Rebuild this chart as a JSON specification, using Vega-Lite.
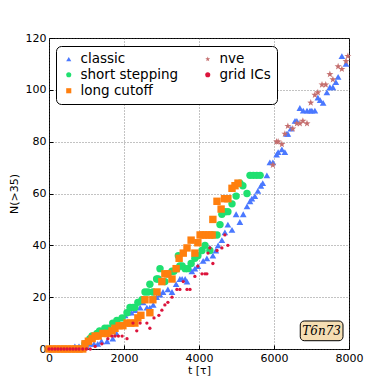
{
  "$schema": "https://vega.github.io/schema/vega-lite/v6.json",
  "width": 300,
  "height": 311,
  "autosize": {"type": "none"},
  "padding": {"left": 49, "top": 38, "right": 39, "bottom": 39},
  "background": "white",
  "config": {
    "font": "DejaVu Sans",
    "view": {"stroke": "black", "strokeWidth": 1},
    "axis": {
      "labelFont": "DejaVu Sans", "labelFontSize": 11, "labelColor": "black",
      "titleFont": "DejaVu Sans", "titleFontSize": 11, "titleFontWeight": "normal", "titleColor": "black",
      "grid": true, "gridColor": "#555", "gridDash": [1, 2], "gridWidth": 0.7,
      "domain": false, "tickColor": "black", "tickSize": -4, "labelPadding": 7,
      "labelFlush": false, "labelOverlap": false
    },
    "legend": {
      "labelFont": "DejaVu Sans", "labelFontSize": 13.5, "labelColor": "black"
    }
  },
  "datasets": {
    "pts": [
      {"s":"classic","t":0,"n":0},{"s":"classic","t":150,"n":0},{"s":"classic","t":300,"n":0},{"s":"classic","t":450,"n":0},{"s":"classic","t":600,"n":0},{"s":"classic","t":690,"n":1},{"s":"classic","t":800,"n":1},{"s":"classic","t":900,"n":1},{"s":"classic","t":1000,"n":1},{"s":"classic","t":1100,"n":2},{"s":"classic","t":1200,"n":2},{"s":"classic","t":1300,"n":2},{"s":"classic","t":1400,"n":3},{"s":"classic","t":1550,"n":3},{"s":"classic","t":1700,"n":4},{"s":"classic","t":1800,"n":6},{"s":"classic","t":1900,"n":9},{"s":"classic","t":2030,"n":13},{"s":"classic","t":2110,"n":14},{"s":"classic","t":2200,"n":14},{"s":"classic","t":2300,"n":15},{"s":"classic","t":2430,"n":16},{"s":"classic","t":2510,"n":18},{"s":"classic","t":2610,"n":16},{"s":"classic","t":2690,"n":16},{"s":"classic","t":2780,"n":17},{"s":"classic","t":2870,"n":20},{"s":"classic","t":2960,"n":21},{"s":"classic","t":3040,"n":22},{"s":"classic","t":3170,"n":23},{"s":"classic","t":3280,"n":22},{"s":"classic","t":3390,"n":25},{"s":"classic","t":3490,"n":27},{"s":"classic","t":3550,"n":27},{"s":"classic","t":3630,"n":27},{"s":"classic","t":3680,"n":26},{"s":"classic","t":3810,"n":30},{"s":"classic","t":3890,"n":31},{"s":"classic","t":3970,"n":32},{"s":"classic","t":4110,"n":34},{"s":"classic","t":4210,"n":35},{"s":"classic","t":4290,"n":39},{"s":"classic","t":4370,"n":36},{"s":"classic","t":4450,"n":38},{"s":"classic","t":4510,"n":40},{"s":"classic","t":4610,"n":42},{"s":"classic","t":4690,"n":45},{"s":"classic","t":4770,"n":48},{"s":"classic","t":4880,"n":46},{"s":"classic","t":4990,"n":52},{"s":"classic","t":5090,"n":49},{"s":"classic","t":5180,"n":52},{"s":"classic","t":5280,"n":55},{"s":"classic","t":5360,"n":57},{"s":"classic","t":5410,"n":58},{"s":"classic","t":5490,"n":59},{"s":"classic","t":5570,"n":61},{"s":"classic","t":5650,"n":63},{"s":"classic","t":5700,"n":64},{"s":"classic","t":5810,"n":67},{"s":"classic","t":5890,"n":72},{"s":"classic","t":5970,"n":72},{"s":"classic","t":6070,"n":75},{"s":"classic","t":6110,"n":76},{"s":"classic","t":6210,"n":77},{"s":"classic","t":6290,"n":76},{"s":"classic","t":6340,"n":83},{"s":"classic","t":6370,"n":83},{"s":"classic","t":6450,"n":85},{"s":"classic","t":6560,"n":88},{"s":"classic","t":6610,"n":88},{"s":"classic","t":6690,"n":93},{"s":"classic","t":6780,"n":92},{"s":"classic","t":6880,"n":92},{"s":"classic","t":6960,"n":92},{"s":"classic","t":7010,"n":92},{"s":"classic","t":7090,"n":92},{"s":"classic","t":7170,"n":97},{"s":"classic","t":7230,"n":96},{"s":"classic","t":7310,"n":95},{"s":"classic","t":7410,"n":99},{"s":"classic","t":7490,"n":101},{"s":"classic","t":7570,"n":101},{"s":"classic","t":7650,"n":103},{"s":"classic","t":7710,"n":105},{"s":"classic","t":7810,"n":113},{"s":"classic","t":7920,"n":110},
      {"s":"short stepping","t":960,"n":2},{"s":"short stepping","t":1090,"n":4},{"s":"short stepping","t":1150,"n":5},{"s":"short stepping","t":1280,"n":6},{"s":"short stepping","t":1350,"n":7},{"s":"short stepping","t":1490,"n":8},{"s":"short stepping","t":1570,"n":8},{"s":"short stepping","t":1700,"n":10},{"s":"short stepping","t":1810,"n":11},{"s":"short stepping","t":1950,"n":12},{"s":"short stepping","t":2080,"n":14},{"s":"short stepping","t":2160,"n":16},{"s":"short stepping","t":2240,"n":16},{"s":"short stepping","t":2290,"n":16},{"s":"short stepping","t":2370,"n":18},{"s":"short stepping","t":2480,"n":19},{"s":"short stepping","t":2560,"n":22},{"s":"short stepping","t":2640,"n":22},{"s":"short stepping","t":2690,"n":25},{"s":"short stepping","t":2770,"n":22},{"s":"short stepping","t":2870,"n":27},{"s":"short stepping","t":2910,"n":27},{"s":"short stepping","t":2960,"n":31},{"s":"short stepping","t":3090,"n":26},{"s":"short stepping","t":3170,"n":29},{"s":"short stepping","t":3280,"n":30},{"s":"short stepping","t":3330,"n":30},{"s":"short stepping","t":3410,"n":31},{"s":"short stepping","t":3450,"n":36},{"s":"short stepping","t":3490,"n":32},{"s":"short stepping","t":3550,"n":32},{"s":"short stepping","t":3630,"n":31},{"s":"short stepping","t":3700,"n":31},{"s":"short stepping","t":3790,"n":33},{"s":"short stepping","t":3890,"n":35},{"s":"short stepping","t":3970,"n":36},{"s":"short stepping","t":4080,"n":38},{"s":"short stepping","t":4160,"n":40},{"s":"short stepping","t":4290,"n":38},{"s":"short stepping","t":4370,"n":44},{"s":"short stepping","t":4480,"n":44},{"s":"short stepping","t":4560,"n":48},{"s":"short stepping","t":4610,"n":52},{"s":"short stepping","t":4690,"n":53},{"s":"short stepping","t":4770,"n":53},{"s":"short stepping","t":4880,"n":56},{"s":"short stepping","t":4990,"n":59},{"s":"short stepping","t":5090,"n":64},{"s":"short stepping","t":5170,"n":63},{"s":"short stepping","t":5280,"n":60},{"s":"short stepping","t":5360,"n":67},{"s":"short stepping","t":5450,"n":67},{"s":"short stepping","t":5540,"n":67},{"s":"short stepping","t":5630,"n":67},
      {"s":"long cutoff","t":0,"n":0},{"s":"long cutoff","t":100,"n":0},{"s":"long cutoff","t":200,"n":0},{"s":"long cutoff","t":300,"n":0},{"s":"long cutoff","t":400,"n":0},{"s":"long cutoff","t":500,"n":0},{"s":"long cutoff","t":600,"n":0},{"s":"long cutoff","t":700,"n":0},{"s":"long cutoff","t":800,"n":0},{"s":"long cutoff","t":900,"n":0},{"s":"long cutoff","t":960,"n":2},{"s":"long cutoff","t":1050,"n":3},{"s":"long cutoff","t":1150,"n":4},{"s":"long cutoff","t":1230,"n":5},{"s":"long cutoff","t":1310,"n":5},{"s":"long cutoff","t":1440,"n":6},{"s":"long cutoff","t":1570,"n":6},{"s":"long cutoff","t":1680,"n":7},{"s":"long cutoff","t":1760,"n":8},{"s":"long cutoff","t":1870,"n":9},{"s":"long cutoff","t":1970,"n":9},{"s":"long cutoff","t":2080,"n":10},{"s":"long cutoff","t":2180,"n":10},{"s":"long cutoff","t":2290,"n":10},{"s":"long cutoff","t":2370,"n":12},{"s":"long cutoff","t":2450,"n":13},{"s":"long cutoff","t":2560,"n":19},{"s":"long cutoff","t":2690,"n":14},{"s":"long cutoff","t":2770,"n":19},{"s":"long cutoff","t":2880,"n":22},{"s":"long cutoff","t":3010,"n":26},{"s":"long cutoff","t":3090,"n":29},{"s":"long cutoff","t":3170,"n":29},{"s":"long cutoff","t":3280,"n":27},{"s":"long cutoff","t":3390,"n":31},{"s":"long cutoff","t":3470,"n":35},{"s":"long cutoff","t":3580,"n":37},{"s":"long cutoff","t":3680,"n":39},{"s":"long cutoff","t":3790,"n":42},{"s":"long cutoff","t":3890,"n":37},{"s":"long cutoff","t":3970,"n":41},{"s":"long cutoff","t":4030,"n":44},{"s":"long cutoff","t":4110,"n":44},{"s":"long cutoff","t":4190,"n":44},{"s":"long cutoff","t":4270,"n":44},{"s":"long cutoff","t":4350,"n":44},{"s":"long cutoff","t":4370,"n":50},{"s":"long cutoff","t":4480,"n":57},{"s":"long cutoff","t":4590,"n":54},{"s":"long cutoff","t":4680,"n":58},{"s":"long cutoff","t":4770,"n":58},{"s":"long cutoff","t":4880,"n":62},{"s":"long cutoff","t":4960,"n":63},{"s":"long cutoff","t":5040,"n":64},
      {"s":"nve","t":5970,"n":71},{"s":"nve","t":6070,"n":80},{"s":"nve","t":6110,"n":80},{"s":"nve","t":6210,"n":79},{"s":"nve","t":6290,"n":83},{"s":"nve","t":6370,"n":86},{"s":"nve","t":6500,"n":85},{"s":"nve","t":6610,"n":87},{"s":"nve","t":6690,"n":87},{"s":"nve","t":6770,"n":88},{"s":"nve","t":6880,"n":87},{"s":"nve","t":6980,"n":95},{"s":"nve","t":7090,"n":98},{"s":"nve","t":7170,"n":99},{"s":"nve","t":7280,"n":102},{"s":"nve","t":7380,"n":102},{"s":"nve","t":7490,"n":106},{"s":"nve","t":7570,"n":104},{"s":"nve","t":7710,"n":109},{"s":"nve","t":7810,"n":108},{"s":"nve","t":7920,"n":111},{"s":"nve","t":7970,"n":113},
      {"s":"grid ICs","t":0,"n":0},{"s":"grid ICs","t":80,"n":0},{"s":"grid ICs","t":160,"n":0},{"s":"grid ICs","t":240,"n":0},{"s":"grid ICs","t":320,"n":0},{"s":"grid ICs","t":400,"n":0},{"s":"grid ICs","t":480,"n":0},{"s":"grid ICs","t":560,"n":0},{"s":"grid ICs","t":640,"n":0},{"s":"grid ICs","t":720,"n":0},{"s":"grid ICs","t":800,"n":0},{"s":"grid ICs","t":900,"n":0},{"s":"grid ICs","t":1000,"n":0},{"s":"grid ICs","t":1100,"n":0},{"s":"grid ICs","t":1230,"n":1},{"s":"grid ICs","t":1410,"n":2},{"s":"grid ICs","t":1570,"n":4},{"s":"grid ICs","t":1680,"n":5},{"s":"grid ICs","t":1760,"n":5},{"s":"grid ICs","t":1850,"n":5},{"s":"grid ICs","t":1950,"n":5},{"s":"grid ICs","t":2080,"n":4},{"s":"grid ICs","t":2240,"n":10},{"s":"grid ICs","t":2340,"n":7},{"s":"grid ICs","t":2430,"n":10},{"s":"grid ICs","t":2610,"n":10},{"s":"grid ICs","t":2690,"n":8},{"s":"grid ICs","t":2800,"n":12},{"s":"grid ICs","t":2930,"n":13},{"s":"grid ICs","t":3010,"n":15},{"s":"grid ICs","t":3090,"n":17},{"s":"grid ICs","t":3170,"n":18},{"s":"grid ICs","t":3280,"n":20},{"s":"grid ICs","t":3410,"n":23},{"s":"grid ICs","t":3490,"n":23},{"s":"grid ICs","t":3580,"n":26},{"s":"grid ICs","t":3680,"n":23},{"s":"grid ICs","t":3760,"n":23},{"s":"grid ICs","t":3890,"n":28},{"s":"grid ICs","t":3970,"n":32},{"s":"grid ICs","t":4080,"n":29},{"s":"grid ICs","t":4160,"n":29},{"s":"grid ICs","t":4210,"n":29},{"s":"grid ICs","t":4240,"n":37},{"s":"grid ICs","t":4290,"n":39},{"s":"grid ICs","t":4370,"n":33},{"s":"grid ICs","t":4480,"n":38},{"s":"grid ICs","t":4610,"n":39},{"s":"grid ICs","t":4690,"n":44},{"s":"grid ICs","t":4770,"n":40}
    ],
    "label": [{"text": "T6n73"}]
  },
  "layer": [
    {
      "data": {"name": "pts"},
      "mark": {"type": "point", "filled": true, "opacity": 1, "strokeWidth": 0},
      "encoding": {
        "x": {"field": "t", "type": "quantitative", "title": "t [τ]",
              "scale": {"domain": [0, 8000], "nice": false, "zero": false},
              "axis": {"values": [0,1000,2000,3000,4000,5000,6000,7000,8000], "format": "d", "titlePadding": 1}},
        "y": {"field": "n", "type": "quantitative", "title": "N(>35)",
              "scale": {"domain": [0, 120], "nice": false},
              "axis": {"values": [0,20,40,60,80,100,120], "format": "d", "titlePadding": 6}},
        "color": {"field": "s", "type": "nominal",
                  "scale": {"domain": ["classic","short stepping","long cutoff","nve","grid ICs"],
                            "range": ["#4a78ff","#1fe070","#ff7f0e","#c46e6e","#dc143c"]},
                  "legend": {"title": null, "orient": "none", "legendX": 7, "legendY": 8,
                             "columns": 2, "columnPadding": 22, "rowPadding": 1,
                             "padding": 6, "strokeColor": "black", "fillColor": "white",
                             "cornerRadius": 5, "labelOffset": 5, "symbolStrokeWidth": 0, "symbolSize": 26,
                             "encode": {"symbols": {"update": {"size": {"signal": "datum.value === 'grid ICs' ? 7 : 26"}}}}}},
        "shape": {"field": "s", "type": "nominal",
                  "scale": {"domain": ["classic","short stepping","long cutoff","nve","grid ICs"],
                            "range": ["triangle-up","circle","square","M0,-1L0.235,-0.324L0.951,-0.309L0.38,0.124L0.588,0.809L0,0.4L-0.588,0.809L-0.38,0.124L-0.951,-0.309L-0.235,-0.324Z","circle"]}},
        "size": {"condition": [{"test": "datum.s === 'grid ICs'", "value": 11}, {"test": "datum.s === 'classic'", "value": 45}], "value": 55}
      }
    },
    {
      "data": {"name": "label"},
      "mark": {"type": "rect", "fill": "#f5deb3", "stroke": "black", "strokeWidth": 1, "cornerRadius": 4},
      "encoding": {
        "x": {"datum": 6700, "type": "quantitative"},
        "x2": {"datum": 7840},
        "y": {"datum": 3.2, "type": "quantitative"},
        "y2": {"datum": 10.8}
      }
    },
    {
      "data": {"name": "label"},
      "mark": {"type": "text", "font": "DejaVu Serif", "fontStyle": "italic", "fontSize": 12, "color": "black"},
      "encoding": {
        "x": {"datum": 7270, "type": "quantitative"},
        "y": {"datum": 7, "type": "quantitative"},
        "text": {"field": "text"}
      }
    }
  ]
}
